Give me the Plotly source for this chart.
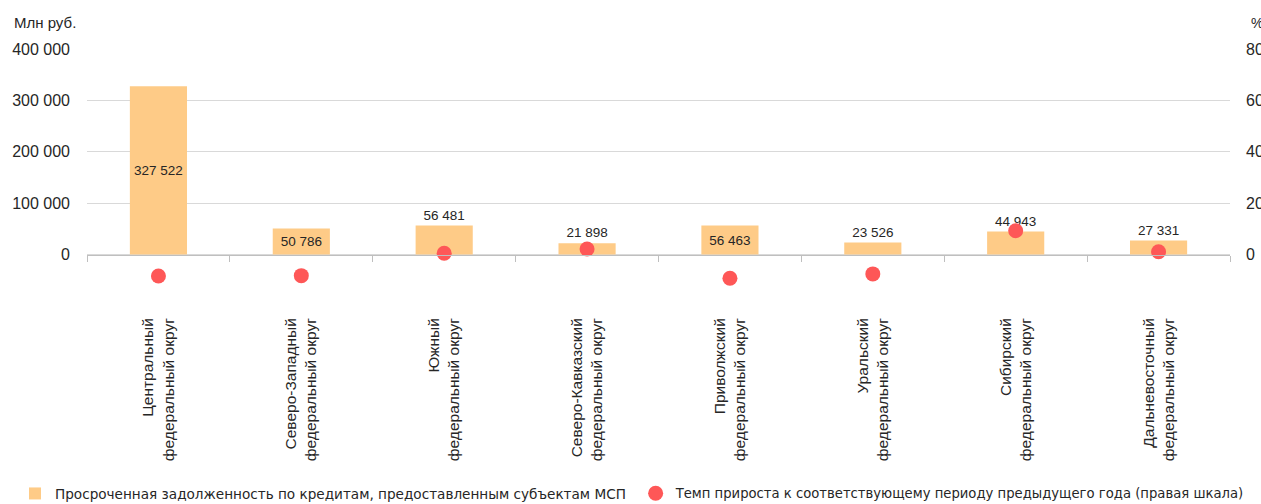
import plotly.graph_objects as go

categories = [
    "Центральный<br>федеральный округ",
    "Северо-Западный<br>федеральный округ",
    "Южный<br>федеральный округ",
    "Северо-Кавказский<br>федеральный округ",
    "Приволжский<br>федеральный округ",
    "Уральский<br>федеральный округ",
    "Сибирский<br>федеральный округ",
    "Дальневосточный<br>федеральный округ",
]
overdue_debt = [327522, 50786, 56481, 21898, 56463, 23526, 44943, 27331]
growth_rate = [-8.3, -8.2, 0.5, 2.2, -9.2, -7.5, 9.3, 1.1]
bar_labels = ["327 522", "50 786", "56 481", "21 898", "56 463", "23 526", "44 943", "27 331"]
label_positions = ["inside", "inside", "outside", "outside", "inside", "outside", "outside", "outside"]

left_ticks = [-100000, 0, 100000, 200000, 300000, 400000]
left_ticktext = ["", "0", "100 000", "200 000", "300 000", "400 000"]
right_ticks = [0, 20, 40, 60, 80]
right_ticktext = ["0", "20", "40", "60", "80"]

FONT = "Liberation Sans"
LEGFONT = "DejaVu Sans"
TXT = "#262626"
GRID = "#d9d9d9"
AXIS = "#bfbfbf"

fig = go.Figure()
fig.add_trace(go.Bar(
    x=categories, y=overdue_debt, width=0.4,
    marker=dict(color="#FECB87", line=dict(width=0)),
    text=bar_labels, textposition=label_positions,
    insidetextanchor="middle", constraintext="none",
    textfont=dict(family=FONT, size=13.5, color=TXT),
    cliponaxis=False,
    name="Просроченная задолженность по кредитам, предоставленным субъектам МСП",
    legend="legend",
))
fig.add_trace(go.Scatter(
    x=categories, y=growth_rate, mode="markers",
    marker=dict(color="#FE5757", size=15, line=dict(width=0)),
    xaxis="x2", yaxis="y2",
    name="Темп прироста к соответствующему периоду предыдущего года (правая шкала)",
    legend="legend2",
))

fig.update_layout(
    width=1261, height=504,
    margin=dict(l=87, r=31, t=49, b=198, autoexpand=False),
    paper_bgcolor="white", plot_bgcolor="white",
    font=dict(family=FONT, size=16, color=TXT),
    bargap=0.6,
    xaxis=dict(
        type="category", showgrid=False, showline=False, zeroline=False,
        ticks="outside", ticklen=5, tickcolor="rgba(0,0,0,0)",
        tickangle=-90, tickfont=dict(family=FONT, size=15.5, color=TXT),
    ),
    xaxis2=dict(
        type="category", overlaying="x", matches="x", anchor="free", position=0.2,
        side="bottom", showline=True, linecolor=AXIS, linewidth=1,
        ticks="outside", ticklen=6, tickcolor=AXIS, tickson="boundaries",
        showticklabels=False, showgrid=False, zeroline=False,
    ),
    xaxis3=dict(
        type="category", overlaying="x", matches="x", anchor="free", position=0.2,
        side="bottom", showline=False,
        ticks="inside", ticklen=5, tickcolor=AXIS, tickson="boundaries",
        showticklabels=False, showgrid=False, zeroline=False,
    ),
    yaxis=dict(
        range=[-100000, 400000], tickvals=left_ticks, ticktext=left_ticktext,
        showgrid=True, gridcolor=GRID, gridwidth=1, zeroline=False,
        showline=False, ticks="", ticklabelstandoff=16,
        tickfont=dict(family=FONT, size=16, color=TXT),
    ),
    yaxis2=dict(
        range=[-20, 80], tickvals=right_ticks, ticktext=right_ticktext,
        overlaying="y", side="right", anchor="x2",
        showgrid=False, zeroline=False, showline=False, ticks="", ticklabelstandoff=15,
        tickfont=dict(family=FONT, size=16, color=TXT),
    ),
    legend=dict(
        orientation="h", x=-0.063, y=-0.73, xanchor="left", yanchor="middle",
        font=dict(family=LEGFONT, size=13.6, color=TXT), bgcolor="rgba(0,0,0,0)",
        itemwidth=30,
    ),
    legend2=dict(
        orientation="h", x=0.48, y=-0.73, xanchor="left", yanchor="middle",
        font=dict(family=LEGFONT, size=13.2, color=TXT), bgcolor="rgba(0,0,0,0)",
        itemwidth=30,
    ),
    showlegend=True,
    annotations=[
        dict(text="Млн руб.", xref="paper", yref="paper", x=-0.0656, y=1.104,
             xanchor="left", yanchor="middle", showarrow=False,
             font=dict(family=FONT, size=15, color=TXT)),
        dict(text="%", xref="paper", yref="paper", x=1.0165, y=1.10,
             xanchor="left", yanchor="middle", showarrow=False,
             font=dict(family=FONT, size=14, color=TXT)),
    ],
)

fig.write_html(
    "out.html",
    config={"displayModeBar": False},
    post_script="document.body.style.margin='0';document.body.style.overflow='hidden';",
)
